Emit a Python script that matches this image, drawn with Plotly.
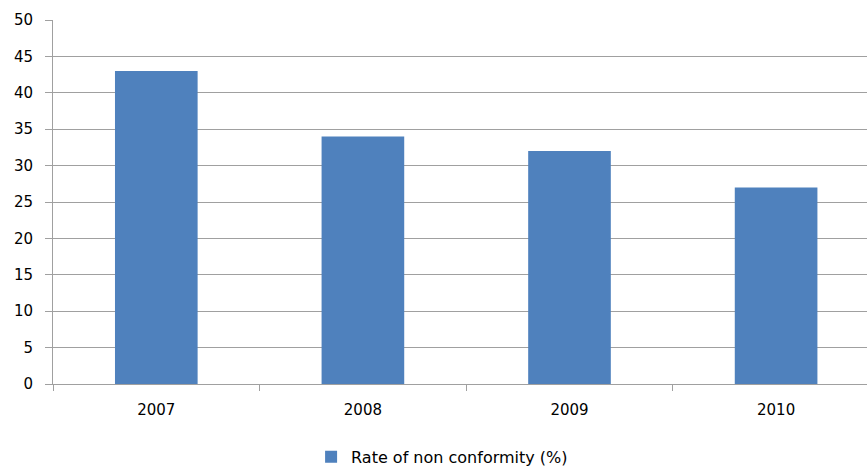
import plotly.graph_objects as go

years = ["2007", "2008", "2009", "2010"]
rate = [43, 34, 32, 27]
y_ticks = [0, 5, 10, 15, 20, 25, 30, 35, 40, 45, 50]

fig = go.Figure()
fig.add_trace(go.Bar(
    x=years, y=rate, name="Rate of non conformity (%)",
    marker=dict(color="#4F81BD", line=dict(width=0)),
    showlegend=True,
))

fig.update_layout(
    width=867, height=466,
    margin=dict(l=53, r=0, t=20, b=81.5, pad=0, autoexpand=False),
    paper_bgcolor="white", plot_bgcolor="white",
    font=dict(family="DejaVu Sans, sans-serif", size=15, color="#000000"),
    bargap=0.6,
    showlegend=True,
    legend=dict(orientation="h", x=0.478, xanchor="center", y=-0.2, yanchor="middle",
                font=dict(size=16), itemwidth=30),
    xaxis=dict(
        type="category", range=[-0.5, 3.44], automargin=False,
        showline=True, linecolor="#a0a0a0", linewidth=1,
        ticks="outside", tickson="boundaries", ticklen=6, tickcolor="#a0a0a0",
        showgrid=False, fixedrange=True, ticklabelstandoff=12,
    ),
    yaxis=dict(
        range=[0, 50], tickvals=y_ticks, automargin=False,
        showline=True, linecolor="#a0a0a0", linewidth=1,
        ticks="outside", ticklen=7, tickcolor="#a0a0a0",
        showgrid=True, gridcolor="#a0a0a0", gridwidth=1.2,
        zeroline=False, ticklabelstandoff=9,
    ),
)

fig.write_html(
    "out.html",
    config={"displayModeBar": False},
    post_script="document.body.style.margin='0';document.body.style.overflow='hidden';",
)
